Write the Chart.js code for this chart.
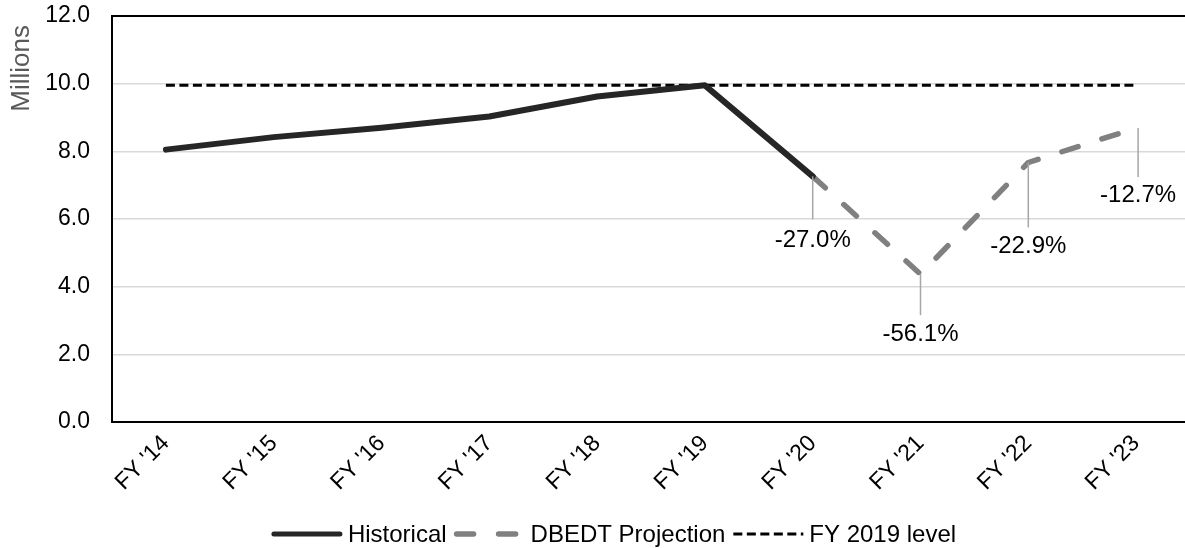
<!DOCTYPE html>
<html>
<head>
<meta charset="utf-8">
<title>Visitor arrivals</title>
<script src="https://cdn.jsdelivr.net/npm/chart.js@4.4.1/dist/chart.umd.min.js"></script>
<style>
  html, body { margin: 0; padding: 0; background: #fff; overflow: hidden; }
  #wrap { position: relative; width: 1192px; height: 548px; }
</style>
</head>
<body>
<div id="wrap"><canvas id="chartArrivals"></canvas></div>
<script>
  const FONT = "'Liberation Sans', Arial, sans-serif";

  // fiscal years on the x axis
  const years = ["FY '14", "FY '15", "FY '16", "FY '17", "FY '18", "FY '19", "FY '20", "FY '21", "FY '22", "FY '23"];
  // millions
  const historical = [8.05, 8.42, 8.70, 9.03, 9.62, 9.95, 7.26, null, null, null];
  const projection = [null, null, null, null, null, null, 7.26, 4.37, 7.67, 8.69];
  const fy2019Level = [9.95, 9.95, 9.95, 9.95, 9.95, 9.95, 9.95, 9.95, 9.95, 9.95];
  // change vs FY 2019, shown under the projection points
  const changeLabels = [null, null, null, null, null, null, '-27.0%', '-56.1%', '-22.9%', '-12.7%'];
  const yTicks = [0, 2, 4, 6, 8, 10, 12];

  // leader length / label drop below each labelled point (px)
  const labelLayout = {
    6: { lead: 43, drop: 64, dx: 0 },
    7: { lead: 41, drop: 60, dx: 0 },
    8: { lead: 65, drop: 84, dx: 0 },
    9: { lead: 49, drop: 67, dx: 2 }
  };

  const changeLabelPlugin = {
    id: 'changeLabels',
    afterDatasetsDraw(chart) {
      const ctx = chart.ctx;
      const meta = chart.getDatasetMeta(1);
      ctx.save();
      ctx.font = '24px ' + FONT;
      ctx.textAlign = 'center';
      ctx.textBaseline = 'middle';
      changeLabels.forEach(function (txt, i) {
        if (!txt) return;
        const pt = meta.data[i];
        const lay = labelLayout[i];
        const x = pt.x + lay.dx;
        ctx.strokeStyle = '#a6a6a6';
        ctx.lineWidth = 1.5;
        ctx.beginPath();
        ctx.moveTo(x, pt.y);
        ctx.lineTo(x, pt.y + lay.lead);
        ctx.stroke();
        ctx.fillStyle = '#000';
        ctx.fillText(txt, x, pt.y + lay.drop);
      });
      ctx.restore();
    }
  };

  // bottom legend + rotated y title
  const legendPlugin = {
    id: 'bottomLegend',
    afterDraw(chart) {
      const ctx = chart.ctx;
      const sets = chart.data.datasets;
      const sample = 70, gapText = 6, gapItem = 8;
      ctx.save();
      ctx.font = '24px ' + FONT;
      let total = 0;
      sets.forEach(function (ds, i) {
        total += sample + gapText + ctx.measureText(ds.label).width + (i < sets.length - 1 ? gapItem : 0);
      });
      let x = 614 - total / 2;
      const y = 534;
      sets.forEach(function (ds) {
        ctx.strokeStyle = ds.borderColor;
        ctx.lineWidth = ds.legendWidth;
        ctx.lineCap = ds.borderCapStyle || 'butt';
        ctx.setLineDash(ds.borderDash || []);
        ctx.beginPath();
        ctx.moveTo(x + (ds.borderCapStyle === 'round' ? 2 : 0), y);
        ctx.lineTo(x + sample - (ds.borderCapStyle === 'round' ? 2 : 0), y);
        ctx.stroke();
        ctx.setLineDash([]);
        x += sample + gapText;
        ctx.fillStyle = '#000';
        ctx.textAlign = 'left';
        ctx.textBaseline = 'middle';
        ctx.fillText(ds.label, x, y + 1);
        x += ctx.measureText(ds.label).width + gapItem;
      });

      // axis title
      ctx.translate(22, chart.chartArea.top + 9);
      ctx.rotate(-Math.PI / 2);
      ctx.font = '26px ' + FONT;
      ctx.fillStyle = '#595959';
      ctx.textAlign = 'right';
      ctx.textBaseline = 'middle';
      ctx.fillText('Millions', 0, 0);
      ctx.restore();
    }
  };

  new Chart(document.getElementById('chartArrivals'), {
    type: 'line',
    data: {
      labels: years,
      datasets: [
        {
          label: 'Historical',
          data: historical,
          borderColor: '#262626',
          borderWidth: 6,
          legendWidth: 5,
          borderCapStyle: 'round',
          borderJoinStyle: 'round',
          pointRadius: 0,
          tension: 0,
          order: 0
        },
        {
          label: 'DBEDT Projection',
          data: projection,
          borderColor: '#808080',
          borderWidth: 5.5,
          legendWidth: 5.5,
          borderDash: [17, 25],
          borderCapStyle: 'round',
          borderJoinStyle: 'round',
          pointRadius: 0,
          tension: 0,
          order: 1
        },
        {
          label: 'FY 2019 level',
          data: fy2019Level,
          borderColor: '#000000',
          borderWidth: 3,
          legendWidth: 3,
          borderDash: [9, 4.5],
          pointRadius: 0,
          tension: 0,
          order: 2
        }
      ]
    },
    options: {
      responsive: true,
      maintainAspectRatio: false,
      devicePixelRatio: 1,
      animation: false,
      layout: { padding: { top: 16, right: 2, left: 0, bottom: 0 } },
      plugins: {
        legend: { display: false },
        tooltip: { enabled: false }
      },
      scales: {
        x: {
          offset: true,
          afterFit: function (scale) { scale.height = 126; },
          grid: { color: 'rgba(0,0,0,0)', drawTicks: false },
          border: { display: true, color: '#000', width: 2 },
          ticks: {
            color: '#000',
            font: { family: FONT, size: 23 },
            minRotation: 45,
            maxRotation: 45,
            padding: 8,
            autoSkip: false
          }
        },
        y: {
          min: yTicks[0],
          max: yTicks[yTicks.length - 1],
          afterFit: function (scale) {
            scale.width = 112;
            scale.paddingTop = 0;
            scale.paddingBottom = 0;
          },
          afterBuildTicks: function (scale) {
            scale.ticks = yTicks.map(function (v) { return { value: v }; });
          },
          grid: {
            drawTicks: false,
            color: function (c) { return (c.tick && (c.tick.value === 12 || c.tick.value === 0)) ? '#000' : '#d9d9d9'; },
            lineWidth: function (c) { return (c.tick && (c.tick.value === 12 || c.tick.value === 0)) ? 2 : 1.5; }
          },
          border: { display: true, color: '#000', width: 2 },
          ticks: {
            color: '#000',
            font: { family: FONT, size: 23 },
            padding: 22,
            callback: function (v) { return Number(v).toFixed(1); }
          }
        }
      }
    },
    plugins: [changeLabelPlugin, legendPlugin]
  });
</script>
</body>
</html>
